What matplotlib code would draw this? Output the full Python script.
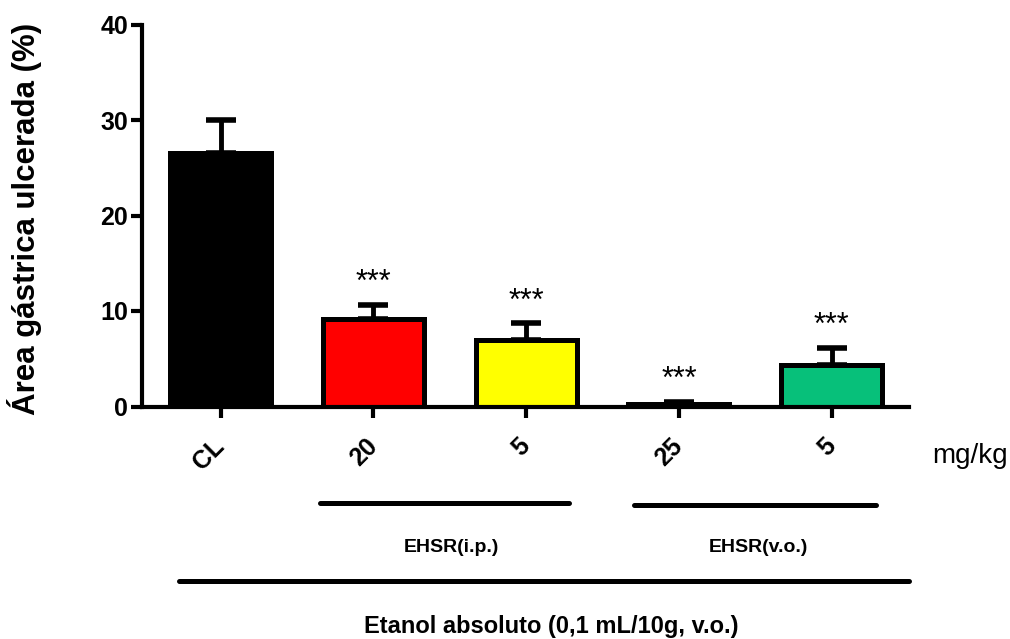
import matplotlib
matplotlib.use("Agg")
import matplotlib.pyplot as plt
import matplotlib.transforms as mtransforms

plt.rcParams['font.family'] = ['Liberation Sans', 'DejaVu Sans']

# dados
grupos = ['CL', '20', '5', '25', '5']
media = [26.5, 9.2, 7.0, 0.3, 4.3]
epm = [3.5, 1.4, 1.7, 0.15, 1.8]
cores = ['#000000', '#ff0000', '#ffff00', '#000000', '#07c07a']
sig = ['', '***', '***', '***', '***']

fig = plt.figure(figsize=(10.10, 6.39), dpi=100)
ax = fig.add_axes([142/1010, 1-406.5/639, (909-142)/1010, 382/639])

x = list(range(len(grupos)))
ax.errorbar(x, media, yerr=[[0]*len(epm), epm], fmt='none', ecolor='black',
            elinewidth=3.5, capsize=11, capthick=4, zorder=1)
ax.bar(x, media, width=0.66, color=cores, edgecolor='black', linewidth=3.6, zorder=2)

for xi, m, e, s in zip(x, media, epm, sig):
    if s:
        ax.annotate(s, (xi, m+e), xytext=(0, 10), textcoords='offset points',
                    ha='center', va='baseline', fontsize=22)

ax.set_xlim(-0.514, 4.506)
ax.set_ylim(0, 40)
ax.set_yticks([0, 10, 20, 30, 40])
ax.set_xticks(x)
ax.set_xticklabels(grupos, rotation=45, ha='right', va='center', fontweight='bold', fontsize=18)
for lab in ax.get_xticklabels():
    lab.set_rotation_mode('anchor')
for lab in ax.get_yticklabels():
    lab.set_fontweight('bold')
ax.tick_params(axis='y', labelsize=18, width=3, length=8, pad=2)
ax.tick_params(axis='x', width=3, length=8, pad=18)
for sp in ['top', 'right']:
    ax.spines[sp].set_visible(False)
for sp in ['left', 'bottom']:
    ax.spines[sp].set_linewidth(3)
ax.set_ylabel('Área gástrica ulcerada (%)', fontsize=22.5, fontweight='bold')
ax.yaxis.set_label_coords(-0.130, 0.492)

# linhas de grupos abaixo do eixo
tr = mtransforms.blended_transform_factory(ax.transData, ax.transAxes)
ax.plot([0.654, 2.28], [-0.252, -0.252], color='black', lw=3.6, transform=tr,
        clip_on=False, solid_capstyle='round')
ax.plot([2.706, 4.29], [-0.257, -0.257], color='black', lw=3.6, transform=tr,
        clip_on=False, solid_capstyle='round')
ax.plot([-0.27, 4.506], [-0.457, -0.457], color='black', lw=3.6, transform=tr,
        clip_on=False, solid_capstyle='round')
ax.text(1.51, -0.368, 'EHSR(i.p.)', transform=tr, ha='center', va='center',
        fontsize=14, fontweight='bold')
ax.text(3.523, -0.368, 'EHSR(v.o.)', transform=tr, ha='center', va='center',
        fontsize=14, fontweight='bold')
ax.text(2.167, -0.577, 'Etanol absoluto (0,1 mL/10g, v.o.)', transform=tr,
        ha='center', va='center', fontsize=17, fontweight='bold')
ax.text(4.657, -0.148, 'mg/kg', transform=tr, ha='left', va='baseline', fontsize=20)

fig.savefig('out.png', dpi=100)
